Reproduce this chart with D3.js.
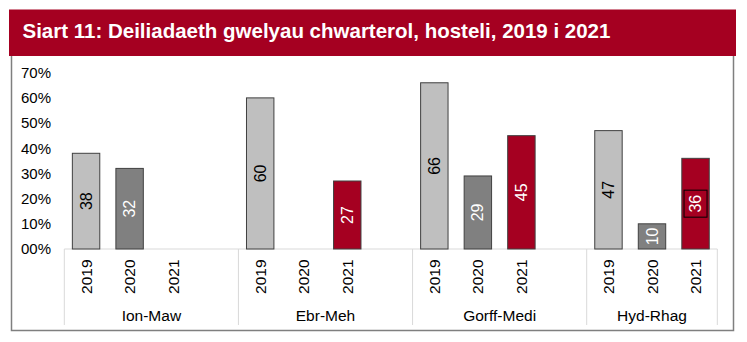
<!DOCTYPE html>
<html>
<head>
<meta charset="utf-8">
<script src="https://cdn.jsdelivr.net/npm/d3@7"></script>
<style>
  html, body { margin: 0; padding: 0; background: #fff; }
  svg { display: block; font-family: "Liberation Sans", Arial, sans-serif; }
</style>
</head>
<body>
<svg id="chart" width="747" height="342"></svg>
<script>
// ---- Data ----
const title = "Siart 11: Deiliadaeth gwelyau chwarterol, hosteli, 2019 i 2021";
const groups = ["Ion-Maw", "Ebr-Meh", "Gorff-Medi", "Hyd-Rhag"];
const years = ["2019", "2020", "2021"];
const values2019 = [38, 60, 66, 47];
const values2020 = [32, null, 29, 10];
const values2021 = [null, 27, 45, 36];
const yTickValues = [0, 10, 20, 30, 40, 50, 60, 70];
const yTickLabels = ["00%", "10%", "20%", "30%", "40%", "50%", "60%", "70%"];
const boxedLabels = ["Hyd-Rhag|2021"];

const seriesValues = { "2019": values2019, "2020": values2020, "2021": values2021 };
const seriesFill = { "2019": "#bfbfbf", "2020": "#808080", "2021": "#a50021" };
const labelFill = { "2019": "#000000", "2020": "#ffffff", "2021": "#ffffff" };

// ---- Layout ----
const svg = d3.select("#chart");
const plotLeft = 64.3, plotRight = 717.3;
const yBase = 249, yTop = 72.7;

// Slots: each group has its year slots plus a blank slot (except the last group)
const slots = [];
groups.forEach((g, gi) => {
  years.forEach(y => slots.push(g + "|" + y));
  if (gi < groups.length - 1) slots.push(g + "|blank");
});

const x = d3.scaleBand().domain(slots).range([plotLeft, plotRight]).padding(0);
const y = d3.scaleLinear().domain([0, 70]).range([yBase, yTop]);
const barW = x.bandwidth() * 0.63;

// ---- Title band ----
svg.append("rect").attr("x", 9).attr("y", 9.5).attr("width", 727).attr("height", 46.5)
  .attr("fill", "#a50021");
svg.append("text").attr("x", 22.5).attr("y", 37.5)
  .attr("fill", "#fff").attr("font-weight", "bold").attr("font-size", "20.5px")
  .text(title);

// ---- Outer frame ----
svg.append("path")
  .attr("d", "M11.5,56 V330.5 H733.5 V56")
  .attr("fill", "none").attr("stroke", "#7f7f7f").attr("stroke-width", 1.5);

// ---- Y axis ----
const yAxis = svg.append("g").attr("transform", "translate(51,0)")
  .call(d3.axisLeft(y).tickValues(yTickValues).tickSize(0).tickPadding(0)
    .tickFormat((d, i) => yTickLabels[i]));
yAxis.select(".domain").remove();
yAxis.selectAll("text").attr("font-size", "15px").attr("fill", "#000")
  .attr("font-family", "Liberation Sans, Arial, sans-serif");

// ---- Category axis lines ----
const axisG = svg.append("g");
axisG.append("line").attr("x1", plotLeft).attr("x2", plotRight)
  .attr("y1", yBase).attr("y2", yBase).attr("stroke", "#d9d9d9").attr("stroke-width", 1);
const boundaries = [plotLeft];
groups.forEach((g, gi) => {
  const last = gi < groups.length - 1 ? g + "|blank" : g + "|" + years[years.length - 1];
  boundaries.push(x(last) + x.bandwidth());
});
axisG.selectAll("line.sep").data(boundaries).enter().append("line")
  .attr("class", "sep")
  .attr("x1", d => d).attr("x2", d => d)
  .attr("y1", yBase).attr("y2", 325)
  .attr("stroke", "#d9d9d9").attr("stroke-width", 1);

// ---- Bars ----
const barData = [];
groups.forEach((g, gi) => {
  years.forEach(yr => {
    const v = seriesValues[yr][gi];
    if (v !== null) barData.push({ key: g + "|" + yr, year: yr, value: v });
  });
});

svg.append("g").selectAll("rect").data(barData).enter().append("rect")
  .attr("x", d => x(d.key) + (x.bandwidth() - barW) / 2)
  .attr("y", d => y(d.value))
  .attr("width", barW)
  .attr("height", d => yBase - y(d.value))
  .attr("fill", d => seriesFill[d.year])
  .attr("stroke", "#404040").attr("stroke-width", 1);

// ---- Data labels (rotated) ----
const lbl = svg.append("g").selectAll("g").data(barData).enter().append("g")
  .attr("transform", d => `translate(${x(d.key) + x.bandwidth() / 2},${(y(d.value) + yBase) / 2}) rotate(-90)`);
lbl.filter(d => boxedLabels.includes(d.key)).append("rect")
  .attr("x", -13.5).attr("y", -11.5).attr("width", 27).attr("height", 23)
  .attr("fill", "none").attr("stroke", "#000").attr("stroke-width", 1);
lbl.append("text")
  .attr("text-anchor", "middle").attr("dominant-baseline", "central")
  .attr("font-size", "16px")
  .attr("fill", d => labelFill[d.year])
  .text(d => d.value);

// ---- Year tick labels ----
const yearSlots = [];
groups.forEach(g => years.forEach(yr => yearSlots.push({ key: g + "|" + yr, year: yr })));
svg.append("g").selectAll("text").data(yearSlots).enter().append("text")
  .attr("transform", d => `translate(${x(d.key) + x.bandwidth() / 2},259.5) rotate(-90)`)
  .attr("text-anchor", "end").attr("dominant-baseline", "central")
  .attr("font-size", "15.5px").attr("fill", "#000")
  .text(d => d.year);

// ---- Group labels ----
svg.append("g").selectAll("text").data(groups).enter().append("text")
  .attr("x", (g, i) => (boundaries[i] + boundaries[i + 1]) / 2)
  .attr("y", 321)
  .attr("text-anchor", "middle").attr("font-size", "15.5px").attr("fill", "#000")
  .text(g => g);
</script>
</body>
</html>
